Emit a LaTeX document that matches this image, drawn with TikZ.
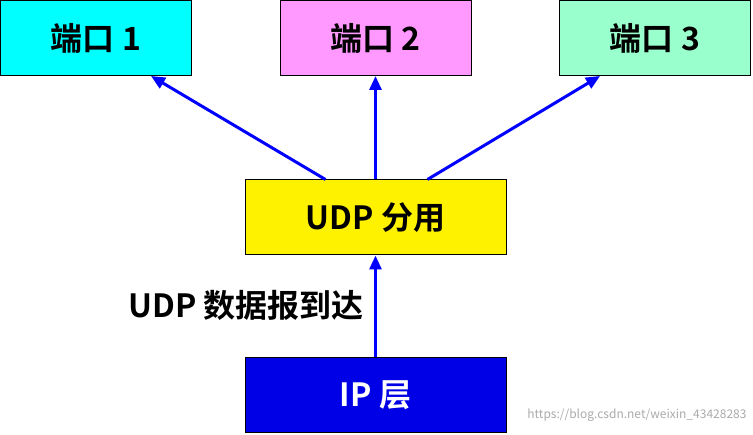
\documentclass[tikz,border=0pt]{standalone}
\usepackage{fontspec}
\setmainfont{Noto Sans CJK SC}[BoldFont={* Bold}]
\usetikzlibrary{arrows.meta}
\begin{document}
\begin{tikzpicture}[x=1pt,y=-1pt,
  box/.style={draw=black,line width=1pt,minimum width=#1,minimum height=75pt,inner sep=0pt,font=\fontsize{32}{36}\selectfont\bfseries},
  arr/.style={draw={rgb,255:red,0;green,0;blue,255},line width=3pt,-{Triangle[length=14pt,width=12pt]}}]
\useasboundingbox (0,0) rectangle (753,435);
\node[box=191pt,fill={rgb,255:red,0;green,255;blue,255}] (p1) at (96,38) {端口 1};
\node[box=191pt,fill={rgb,255:red,255;green,153;blue,255}] (p2) at (375.5,38) {端口 2};
\node[box=191pt,fill={rgb,255:red,153;green,255;blue,204}] (p3) at (655,38) {端口 3};
\node[box=261pt,fill=yellow] (u) at (375.5,217.5) {UDP 分用};
\node[box=261pt,fill={rgb,255:red,0;green,0;blue,230},text=white] (ip) at (375.5,395.5) {IP 层};
\node[font=\fontsize{32}{36}\selectfont\bfseries] (lab) at (246,305) {UDP 数据报到达};
\node[anchor=east,text={rgb,255:red,170;green,170;blue,170},font=\fontsize{12}{14}\selectfont] (wm) at (750,415) {https://blog.csdn.net/weixin\_43428283};
\draw[arr] (ip.north) -- (u.south);
\draw[arr] ([xshift=-50pt]u.north) -- ([xshift=55pt]p1.south);
\draw[arr] (u.north) -- (p2.south);
\draw[arr] ([xshift=52pt]u.north) -- ([xshift=-55pt]p3.south);
\end{tikzpicture}
\end{document}
